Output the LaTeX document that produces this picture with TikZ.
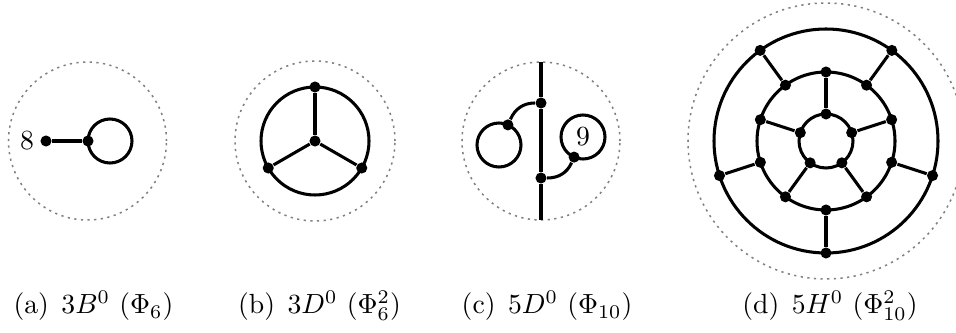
\documentclass[tikz,border=0pt]{standalone}
\tikzset{
  vtx/.style={circle, fill=black, inner sep=0pt, minimum size=4pt},
  edge/.style={line width=1.1pt},
  boundary/.style={gray, dash pattern=on 0.8pt off 1.6pt, line width=0.55pt},
  subcap/.style={anchor=base, inner sep=0pt}
}
\begin{document}
\begin{tikzpicture}[x=0.361pt, y=0.361pt]
\useasboundingbox (0,-192) rectangle (956,141);
% (a) one loop with a pendant edge
\begin{scope}[shift={(87.5,0)}]
  \draw[boundary] (0,0) circle (79);
  \draw[edge] (22.5,0) circle (22);
  \node[vtx] (a1) at (-41.5,0) {};
  \node[vtx] (a2) at (0.5,0) {};
  \draw[edge] (a1) -- (a2);
  \node (a8) at (-60.5,0) {8};
\end{scope}
% (b) theta with a centre vertex
\begin{scope}[shift={(315,0)}]
  \draw[boundary] (0,0) circle (80);
  \draw[edge] (0,0) circle (54);
  \node[vtx] (b0) at (0,0) {};
  \node[vtx] (b1) at (90:54) {};
  \node[vtx] (b2) at (210:54) {};
  \node[vtx] (b3) at (330:54) {};
  \draw[edge] (b0) -- (b1);
  \draw[edge] (b0) -- (b2);
  \draw[edge] (b0) -- (b3);
\end{scope}
% (c) diameter with two loops
\begin{scope}[shift={(541,0)}]
  \draw[boundary] (0,0) circle (79);
  \coordinate (ctop) at (0,79);
  \coordinate (cbot) at (0,-79);
  \node[vtx] (c1) at (0,38) {};
  \node[vtx] (c2) at (0,-37) {};
  \draw[edge] (ctop) -- (c1) -- (c2) -- (cbot);
  % Left loop
  \draw[edge] (-42,-4) circle (22);
  \node[vtx] (c3) at (-33.1,16.1) {};
  \draw[edge] (c1) to[out=180, in=66] (c3);
  % Right loop
  \draw[edge] (42,4) circle (22);
  \node[vtx] (c4) at (33.1,-16.1) {};
  \draw[edge] (c2) to[out=0, in=246] (c4);
  \node (c9) at (42,4) {9};
\end{scope}
% (d) three rings
\begin{scope}[shift={(826,0)}]
  \draw[boundary] (0,0) circle (138);
  \draw[edge] (0,0) circle (112);
  \draw[edge] (0,0) circle (69);
  \draw[edge] (0,0) circle (27);
  % Inner ring
  \node[vtx] (di1) at (90:27) {};
  \node[vtx] (di2) at (162:27) {};
  \node[vtx] (di3) at (234:27) {};
  \node[vtx] (di4) at (306:27) {};
  \node[vtx] (di5) at (18:27) {};
  % Middle ring
  \node[vtx] (dm1) at (90:69) {};
  \node[vtx] (dm2) at (162:69) {};
  \node[vtx] (dm3) at (234:69) {};
  \node[vtx] (dm4) at (306:69) {};
  \node[vtx] (dm5) at (18:69) {};
  \node[vtx] (dn1) at (126:69) {};
  \node[vtx] (dn2) at (198:69) {};
  \node[vtx] (dn3) at (270:69) {};
  \node[vtx] (dn4) at (342:69) {};
  \node[vtx] (dn5) at (54:69) {};
  % Outer ring
  \node[vtx] (do1) at (126:112) {};
  \node[vtx] (do2) at (198:112) {};
  \node[vtx] (do3) at (270:112) {};
  \node[vtx] (do4) at (342:112) {};
  \node[vtx] (do5) at (54:112) {};
  % Spokes
  \draw[edge] (di1) -- (dm1);
  \draw[edge] (di2) -- (dm2);
  \draw[edge] (di3) -- (dm3);
  \draw[edge] (di4) -- (dm4);
  \draw[edge] (di5) -- (dm5);
  \draw[edge] (dn1) -- (do1);
  \draw[edge] (dn2) -- (do2);
  \draw[edge] (dn3) -- (do3);
  \draw[edge] (dn4) -- (do4);
  \draw[edge] (dn5) -- (do5);
\end{scope}
% Captions
\node[subcap] (capa) at (93.5,-173) {(a)\hspace{0.45em}$3B^0$ ($\Phi_6$)};
\node[subcap] (capb) at (319.5,-173) {(b)\hspace{0.45em}$3D^0$ ($\Phi_6^2$)};
\node[subcap] (capc) at (547,-173) {(c)\hspace{0.45em}$5D^0$ ($\Phi_{10}$)};
\node[subcap] (capd) at (830,-173) {(d)\hspace{0.45em}$5H^0$ ($\Phi_{10}^2$)};
\end{tikzpicture}
\end{document}
